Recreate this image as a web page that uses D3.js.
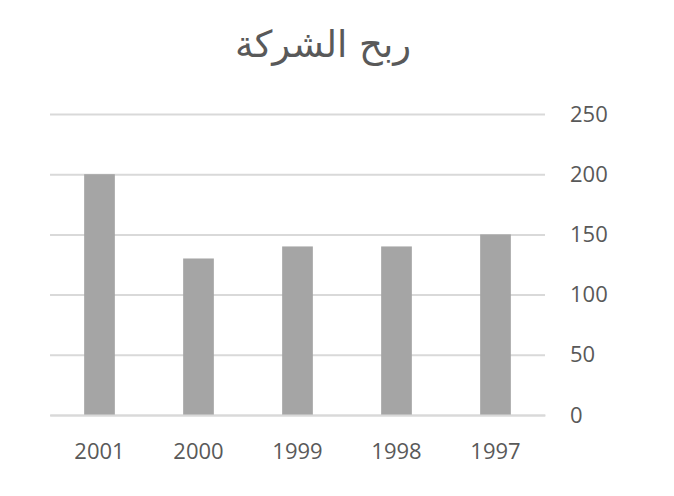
<!DOCTYPE html>
<html><head><meta charset="utf-8">
<script src="https://cdn.jsdelivr.net/npm/d3@7"></script>
<style>body{margin:0;background:#fff;}</style>
</head><body>
<svg id="c" width="674" height="496"></svg>
<script>
const title = "ربح الشركة";
const categories = ["2001","2000","1999","1998","1997"];
const values = [200,130,140,140,150];
const yTicks = [0,50,100,150,200,250];

(function(){
const svg = d3.select("#c");
const mL = 50, mR = 545, mT = 114, mB = 415;
const x = d3.scaleBand().domain(categories).range([mL,mR]).paddingInner(0.69).paddingOuter(0.345);
const y = d3.scaleLinear().domain([0,250]).range([mB,mT]);
const font = "'Open Sans','Noto Sans','DejaVu Sans',sans-serif";

svg.append("text").attr("x",323).attr("y",57).attr("text-anchor","middle")
  .attr("font-family","'DejaVu Sans','Noto Sans',sans-serif").attr("font-size",37)
  .attr("fill","#595959").text(title);

const ya = svg.append("g").attr("transform",`translate(${mR},0)`)
  .call(d3.axisRight(y).tickValues(yTicks).tickSize(-(mR-mL)).tickPadding(25).tickFormat(d3.format("d")));
ya.select(".domain").remove();
ya.selectAll(".tick line").attr("stroke","#d9d9d9").attr("stroke-width",2);
ya.selectAll(".tick text").attr("font-family",font).attr("font-size",22).attr("fill","#595959");

svg.append("g").selectAll("rect").data(values).join("rect")
  .attr("x",(d,i)=>x(categories[i])).attr("width",x.bandwidth())
  .attr("y",d=>y(d)).attr("height",d=>y(0)-y(d)).attr("fill","#a5a5a5");

const xa = svg.append("g").attr("transform",`translate(0,${mB})`)
  .call(d3.axisBottom(x).tickSize(0).tickPadding(28));
xa.select(".domain").attr("stroke","#d9d9d9").attr("stroke-width",2);
xa.selectAll(".tick text").attr("font-family",font).attr("font-size",22).attr("fill","#595959");
})();
</script>
</body></html>
